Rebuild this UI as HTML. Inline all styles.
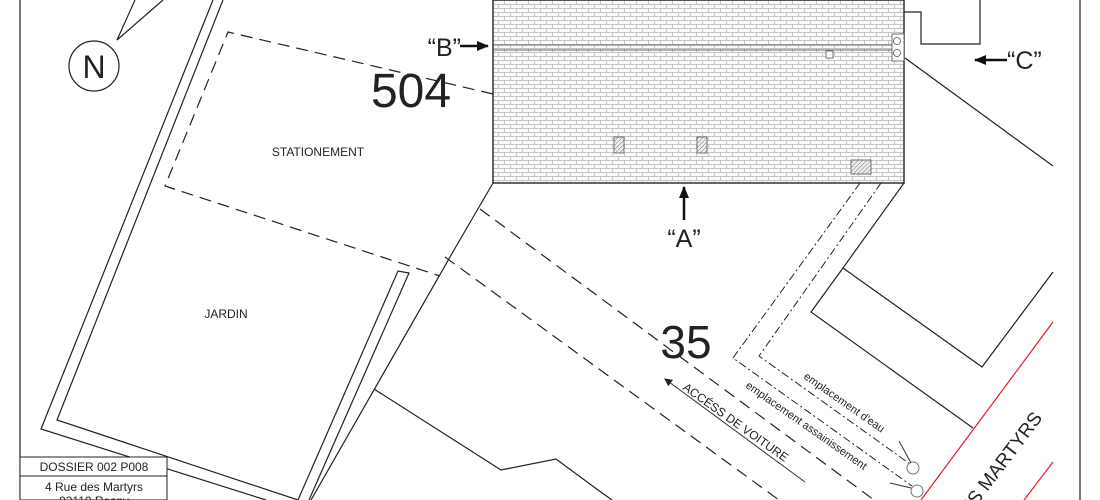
<!DOCTYPE html>
<html><head><meta charset="utf-8"><style>
html,body{margin:0;padding:0;background:#fff;width:1100px;height:500px;overflow:hidden;}
svg{display:block;font-family:"Liberation Sans",Arial,sans-serif;}
</style></head><body>
<svg width="1100" height="500" viewBox="0 0 1100 500" xmlns="http://www.w3.org/2000/svg">
<defs>
<pattern id="tile" width="12" height="8" patternUnits="userSpaceOnUse">
<rect width="12" height="8" fill="#fafafa"/>
<path d="M0 0.5H12M0 4.5H12M0.5 0.5V4.5M6.5 4.5V8.5" stroke="#c4c4c4" stroke-width="1" fill="none"/>
</pattern>
<pattern id="hatch" width="3" height="3" patternUnits="userSpaceOnUse" patternTransform="rotate(45)">
<rect width="3" height="3" fill="#eee"/><line x1="0" y1="0" x2="0" y2="3" stroke="#777" stroke-width="1"/>
</pattern>
<marker id="ah" markerWidth="8" markerHeight="8" refX="7" refY="4" orient="auto" markerUnits="userSpaceOnUse">
<path d="M0 0L8 4L0 8Z" fill="#222"/></marker>
<marker id="ah2" markerWidth="12" markerHeight="10" refX="11" refY="5" orient="auto" markerUnits="userSpaceOnUse">
<path d="M0 0L12 5L0 10Z" fill="#111"/></marker>
<clipPath id="cp"><rect x="0" y="0" width="1100" height="500"/></clipPath>
</defs>
<g clip-path="url(#cp)">
<g fill="none" stroke="#222" stroke-width="1.2">
<line x1="20" y1="0" x2="20" y2="500"/>
<line x1="1080" y1="0" x2="1080" y2="500"/>
<polyline points="135,0 117,40 163,0"/>
<circle cx="94" cy="66" r="25"/>
<polyline points="213,0 41,429 266,500"/>
<polyline points="223,0 57,420 298,500 398,271 409,273 309,500"/>
<polyline points="311,500 454,250 493,183"/>
<polyline points="374,389 501,470 556,459 598,490 612,500"/>
<rect x="493" y="0" width="411" height="183" fill="url(#tile)" stroke="#333" stroke-width="1.5"/>
<line x1="493" y1="45" x2="904" y2="45" stroke="#666" stroke-width="1"/>
<line x1="493" y1="50" x2="904" y2="50" stroke="#666" stroke-width="1"/>
<rect x="614" y="137" width="10" height="16" fill="url(#hatch)" stroke="#555" stroke-width="0.8"/>
<rect x="697" y="137" width="10" height="16" fill="url(#hatch)" stroke="#555" stroke-width="0.8"/>
<rect x="851" y="160" width="20" height="14" fill="url(#hatch)" stroke="#555" stroke-width="0.8"/>
<rect x="826" y="51" width="7" height="7" fill="#fff" stroke="#555" stroke-width="0.8"/>
<rect x="892" y="34" width="12" height="27" fill="#fff" stroke="#555" stroke-width="0.8"/>
<circle cx="897" cy="41" r="3.5" stroke="#555" stroke-width="0.8"/>
<circle cx="897" cy="53" r="3.5" stroke="#555" stroke-width="0.8"/>
<polyline points="904,12 921,12 921,44 980,44 980,0"/>
<line x1="905" y1="58" x2="1053" y2="166"/>
<polyline points="904,183 843,268 982,367 1053,272"/>
<polyline points="843,268 811,312 973,428"/>
<line x1="1053" y1="322" x2="921" y2="500" stroke="#e02020"/>
<line x1="1053" y1="462" x2="1024" y2="500" stroke="#e02020"/>
</g>
<g fill="none" stroke="#222" stroke-width="1.2" stroke-dasharray="12,7">
<polyline points="493,94 228,32 165,186 440,276"/>
<line x1="480" y1="209" x2="874" y2="500"/>
<line x1="445" y1="257" x2="779" y2="500"/>
</g>
<g fill="none" stroke="#222" stroke-width="1" stroke-dasharray="8,3,2,3">
<polyline points="860,183 733,358 912,486"/>
<polyline points="881,183 759,356 910,464"/>
</g>
<g fill="none" stroke="#333" stroke-width="1">
<circle cx="913" cy="468" r="6" stroke="#777"/>
<circle cx="917" cy="491" r="6" stroke="#777"/>
<line x1="899" y1="441" x2="911" y2="463"/>
<line x1="890" y1="483" x2="911" y2="488"/>
<line x1="805" y1="482" x2="665" y2="379" marker-end="url(#ah)"/>
<line x1="460" y1="46" x2="488" y2="46" stroke="#111" stroke-width="2.5" marker-end="url(#ah2)"/>
<line x1="684" y1="220" x2="684" y2="187" stroke="#111" stroke-width="2.5" marker-end="url(#ah2)"/>
<line x1="1007" y1="60" x2="975" y2="60" stroke="#111" stroke-width="2.5" marker-end="url(#ah2)"/>
</g>
<g fill="#222">
<text x="94" y="78" font-size="32" text-anchor="middle">N</text>
<text x="461" y="56" font-size="25" text-anchor="end">“B”</text>
<text x="411" y="107" font-size="48" text-anchor="middle">504</text>
<text x="318" y="156" font-size="12" text-anchor="middle">STATIONEMENT</text>
<text x="226" y="318" font-size="12" text-anchor="middle">JARDIN</text>
<text x="686" y="358" font-size="46" text-anchor="middle">35</text>
<text x="684" y="247" font-size="25" text-anchor="middle">“A”</text>
<text x="1007" y="69" font-size="25">“C”</text>
<text font-size="12" transform="translate(682,389) rotate(35.5)">ACCÉSS DE VOITURE</text>
<text font-size="11" transform="translate(803,378) rotate(35)">emplacement d'eau</text>
<text font-size="11" transform="translate(745,387) rotate(35)">emplacement assainissement</text>
<text font-size="19" text-anchor="end" transform="translate(1043,418) rotate(-53)">RUE DES MARTYRS</text>
</g>
<rect x="20" y="457" width="147" height="43" fill="#fff" stroke="#222" stroke-width="1"/>
<line x1="20" y1="476" x2="167" y2="476" stroke="#222" stroke-width="1"/>
<g fill="#222" font-size="12" text-anchor="middle">
<text x="94" y="471">DOSSIER 002 P008</text>
<text x="94" y="491">4 Rue des Martyrs</text>
<text x="94" y="505">93110 Rosny</text>
</g>
</g>
</svg>
</body></html>
